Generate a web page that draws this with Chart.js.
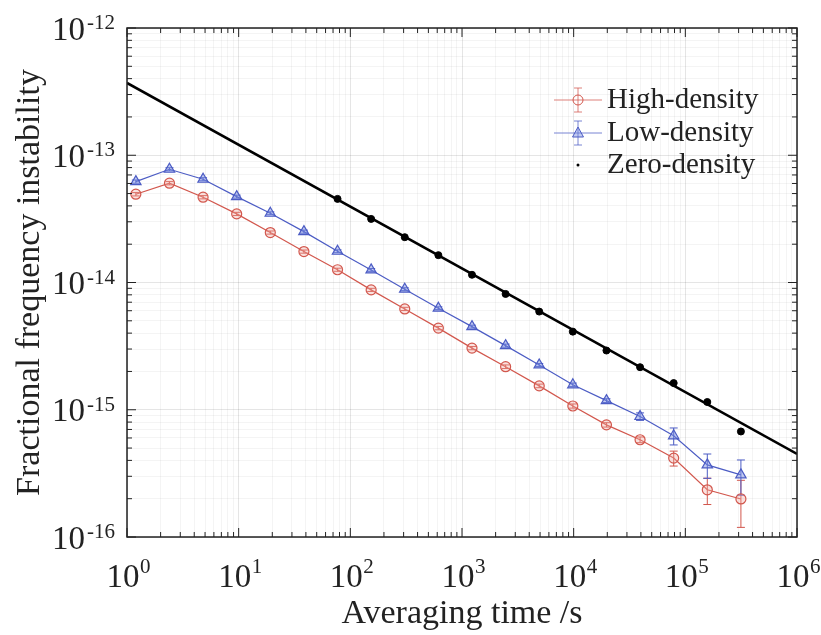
<html>
<head>
<meta charset="utf-8">
<title>Fractional frequency instability</title>
<script src="https://cdn.jsdelivr.net/npm/chart.js@4.4.1/dist/chart.umd.min.js"></script>
<style>
    body { margin: 0; background: #fff; }
</style>
<script>
// tiempos de promediado (s)
var tau = [1.2, 2.4, 4.8, 9.6, 19.2, 38.4, 76.8, 153.6, 307.2, 614.4, 1228.8, 2457.6, 4915.2, 9830.4, 19660.8, 39321.6, 78643.2, 157286.4, 314572.8]

var highDensity = [4.94e-14, 6.03e-14, 4.68e-14, 3.46e-14, 2.47e-14, 1.75e-14, 1.26e-14, 8.75e-15, 6.20e-15, 4.38e-15, 3.05e-15, 2.18e-15, 1.54e-15, 1.07e-15, 7.61e-16, 5.81e-16, 4.17e-16, 2.35e-16, 1.99e-16]
var highErr = [1.5e-15, 1.8e-15, 1.4e-15, 1.0e-15, 7e-16, 5e-16, 3.5e-16, 2.5e-16, 1.8e-16, 1.3e-16, 9e-17, 7e-17, 5e-17, 4e-17, 3e-17, 3e-17, 5.6e-17, 5.5e-17, 8e-17]

var lowDensity = [6.21e-14, 7.76e-14, 6.48e-14, 4.73e-14, 3.50e-14, 2.51e-14, 1.76e-14, 1.256e-14, 8.86e-15, 6.28e-15, 4.50e-15, 3.19e-15, 2.25e-15, 1.57e-15, 1.18e-15, 8.85e-16, 6.24e-16, 3.69e-16, 3.08e-16]
var lowErr = [1.8e-15, 2.2e-15, 1.8e-15, 1.3e-15, 9e-16, 7e-16, 4.5e-16, 3.2e-16, 2.3e-16, 1.6e-16, 1.2e-16, 9e-17, 6e-17, 5e-17, 4e-17, 6e-17, 9.5e-17, 8e-17, 9.5e-17]

// zero-density empieza en tau = 76.8 s
var tauZero = [76.8, 153.6, 307.2, 614.4, 1228.8, 2457.6, 4915.2, 9830.4, 19660.8, 39321.6, 78643.2, 157286.4, 314572.8]
var zeroDensity = [4.54e-14, 3.16e-14, 2.27e-14, 1.64e-14, 1.15e-14, 8.13e-15, 5.91e-15, 4.11e-15, 2.92e-15, 2.16e-15, 1.62e-15, 1.15e-15, 6.75e-16]

// recta de ajuste
var ajusteX = [1, 1e6]
var ajusteY = [3.7e-13, 4.5e-16]

var xDecadas = [0, 6]
var yDecadas = [-16, -12]

var rojo = '#d2574d'
var azul = '#4c5cc4'
var fuente = "'Liberation Serif', 'Times New Roman', serif"

var exponente = (v) => String(Math.round(Math.log10(v)))

var etiqueta = (v, i, ticks) => ticks[i].major ? '10' : ''

var decadas = (scale, rango) => {
    var t = []
    for (var e = rango[0]; e < rango[1]; e++) {
        for (var m = 1; m < 10; m++) t.push({value: m * Math.pow(10, e), major: m === 1})
    }
    t.push({value: Math.pow(10, rango[1]), major: true})
    scale.ticks = t
}

var puntos = (xs, ys) => xs.map((x, i) => ({x: x, y: ys[i]}))

// barras de error, marco con ticks hacia dentro, exponentes y leyenda
var extras = {
    id: 'extras',
    beforeDatasetsDraw: (chart) => {
        var ctx = chart.ctx
        var xs = chart.scales.x, ys = chart.scales.y
        chart.data.datasets.forEach((ds) => {
            if (!ds.errores) return
            ctx.save()
            ctx.strokeStyle = ds.borderColor
            ctx.lineWidth = 1
            ds.data.forEach((p, i) => {
                var px = xs.getPixelForValue(p.x)
                var y1 = ys.getPixelForValue(p.y - ds.errores[i])
                var y2 = ys.getPixelForValue(p.y + ds.errores[i])
                ctx.beginPath()
                ctx.moveTo(px, y1); ctx.lineTo(px, y2)
                ctx.moveTo(px - 4, y1); ctx.lineTo(px + 4, y1)
                ctx.moveTo(px - 4, y2); ctx.lineTo(px + 4, y2)
                ctx.stroke()
            })
            ctx.restore()
        })
    },
    afterDraw: (chart) => {
        var ctx = chart.ctx
        var a = chart.chartArea
        var xs = chart.scales.x, ys = chart.scales.y
        ctx.save()
        ctx.strokeStyle = '#222'
        ctx.lineWidth = 1.5
        ctx.strokeRect(a.left, a.top, a.right - a.left, a.bottom - a.top)
        ctx.lineWidth = 1
        ctx.beginPath()
        xs.ticks.forEach((t) => {
            var px = xs.getPixelForValue(t.value)
            var l = t.major ? 9 : 5
            ctx.moveTo(px, a.bottom); ctx.lineTo(px, a.bottom - l)
            ctx.moveTo(px, a.top); ctx.lineTo(px, a.top + l)
        })
        ys.ticks.forEach((t) => {
            var py = ys.getPixelForValue(t.value)
            var l = t.major ? 9 : 5
            ctx.moveTo(a.left, py); ctx.lineTo(a.left + l, py)
            ctx.moveTo(a.right, py); ctx.lineTo(a.right - l, py)
        })
        ctx.stroke()

        // exponentes de las etiquetas
        ctx.fillStyle = '#222'
        ctx.font = '21px ' + fuente
        ctx.textAlign = 'left'
        ctx.textBaseline = 'alphabetic'
        xs.ticks.forEach((t) => {
            if (!t.major) return
            var px = xs.getPixelForValue(t.value)
            ctx.fillText(exponente(t.value), px + 13, a.bottom + 36)
        })
        ys.ticks.forEach((t) => {
            if (!t.major) return
            var py = ys.getPixelForValue(t.value)
            ctx.fillText(exponente(t.value), 87, py + 1)
        })

        // leyenda
        var filas = [
            {texto: 'High-density', color: rojo, y: 100, tipo: 'circulo'},
            {texto: 'Low-density', color: azul, y: 133, tipo: 'triangulo'},
            {texto: 'Zero-density', color: '#000', y: 165, tipo: 'punto'}
        ]
        var lx = 578
        filas.forEach((f) => {
            if (f.tipo !== 'punto') {
                ctx.strokeStyle = f.color
                ctx.globalAlpha = 0.75
                ctx.beginPath()
                ctx.moveTo(lx - 24, f.y); ctx.lineTo(lx + 24, f.y)
                ctx.moveTo(lx, f.y - 12); ctx.lineTo(lx, f.y + 12)
                ctx.moveTo(lx - 4, f.y - 12); ctx.lineTo(lx + 4, f.y - 12)
                ctx.moveTo(lx - 4, f.y + 12); ctx.lineTo(lx + 4, f.y + 12)
                ctx.stroke()
                ctx.globalAlpha = 1
                ctx.beginPath()
                if (f.tipo === 'circulo') {
                    ctx.arc(lx, f.y, 5, 0, Math.PI * 2)
                } else {
                    ctx.moveTo(lx, f.y - 6); ctx.lineTo(lx + 5.5, f.y + 4); ctx.lineTo(lx - 5.5, f.y + 4); ctx.closePath()
                    ctx.fillStyle = 'rgba(120,140,225,0.45)'
                    ctx.fill()
                }
                ctx.stroke()
            } else {
                ctx.fillStyle = '#000'
                ctx.beginPath()
                ctx.arc(lx, f.y, 1.5, 0, Math.PI * 2)
                ctx.fill()
            }
            ctx.fillStyle = '#222'
            ctx.font = '29px ' + fuente
            ctx.textBaseline = 'middle'
            ctx.textAlign = 'left'
            ctx.fillText(f.texto, 607, f.y)
        })
        ctx.restore()
    }
}

window.onload = () => {
    var contenedor = document.getElementById('grafica')
    var grafica = new Chart(contenedor, {
        type: 'line',
        data: {
            datasets: [{
                label: 'High-density',
                data: puntos(tau, highDensity),
                errores: highErr,
                borderColor: rojo,
                backgroundColor: 'rgba(240,170,160,0.35)',
                borderWidth: 1.2,
                pointStyle: 'circle',
                pointRadius: 5,
                pointBorderWidth: 1.2
            }, {
                label: 'Low-density',
                data: puntos(tau, lowDensity),
                errores: lowErr,
                borderColor: azul,
                backgroundColor: 'rgba(120,140,225,0.45)',
                borderWidth: 1.2,
                pointStyle: 'triangle',
                pointRadius: 6,
                pointBorderWidth: 1.2
            }, {
                label: 'Zero-density',
                data: puntos(tauZero, zeroDensity),
                showLine: false,
                borderColor: '#000',
                backgroundColor: '#000',
                pointRadius: 3.5
            }, {
                label: 'Ajuste',
                data: puntos(ajusteX, ajusteY),
                borderColor: '#000',
                borderWidth: 2.5,
                pointRadius: 0
            }]
        },
        options: {
            responsive: false,
            animation: false,
            layout: { padding: { top: 28, right: 24, left: 0, bottom: 0 } },
            plugins: {
                legend: { display: false },
                tooltip: { enabled: false }
            },
            scales: {
                x: {
                    type: 'logarithmic',
                    min: 1,
                    max: 1e6,
                    afterBuildTicks: (s) => decadas(s, xDecadas),
                    afterFit: (s) => { s.height = 98; s.paddingLeft = 0; s.paddingRight = 0 },
                    border: { display: false },
                    grid: {
                        drawTicks: false,
                        color: (c) => c.tick && c.tick.major ? 'rgba(0,0,0,0.10)' : 'rgba(0,0,0,0.045)'
                    },
                    ticks: {
                        autoSkip: false,
                        maxRotation: 0,
                        padding: 22,
                        labelOffset: -4,
                        color: '#222',
                        font: { family: fuente, size: 33 },
                        callback: etiqueta
                    },
                    title: {
                        display: true,
                        text: 'Averaging time /s',
                        color: '#222',
                        font: { family: fuente, size: 34 },
                        padding: { top: 0, bottom: 1 }
                    }
                },
                y: {
                    type: 'logarithmic',
                    min: 1e-16,
                    max: 1e-12,
                    afterBuildTicks: (s) => decadas(s, yDecadas),
                    afterFit: (s) => { s.width = 127; s.paddingTop = 0; s.paddingBottom = 0 },
                    border: { display: false },
                    grid: {
                        drawTicks: false,
                        color: (c) => c.tick && c.tick.major ? 'rgba(0,0,0,0.10)' : 'rgba(0,0,0,0.045)'
                    },
                    ticks: {
                        autoSkip: false,
                        padding: 42,
                        labelOffset: 3,
                        color: '#222',
                        font: { family: fuente, size: 33 },
                        callback: etiqueta
                    },
                    title: {
                        display: true,
                        text: 'Fractional frequency instability',
                        color: '#222',
                        font: { family: fuente, size: 34 },
                        padding: { top: 10, bottom: 0 }
                    }
                }
            }
        },
        plugins: [extras]
    })
}
</script>
</head>
<body>
    <canvas id="grafica" width="821" height="635"></canvas>
</body>
</html>
